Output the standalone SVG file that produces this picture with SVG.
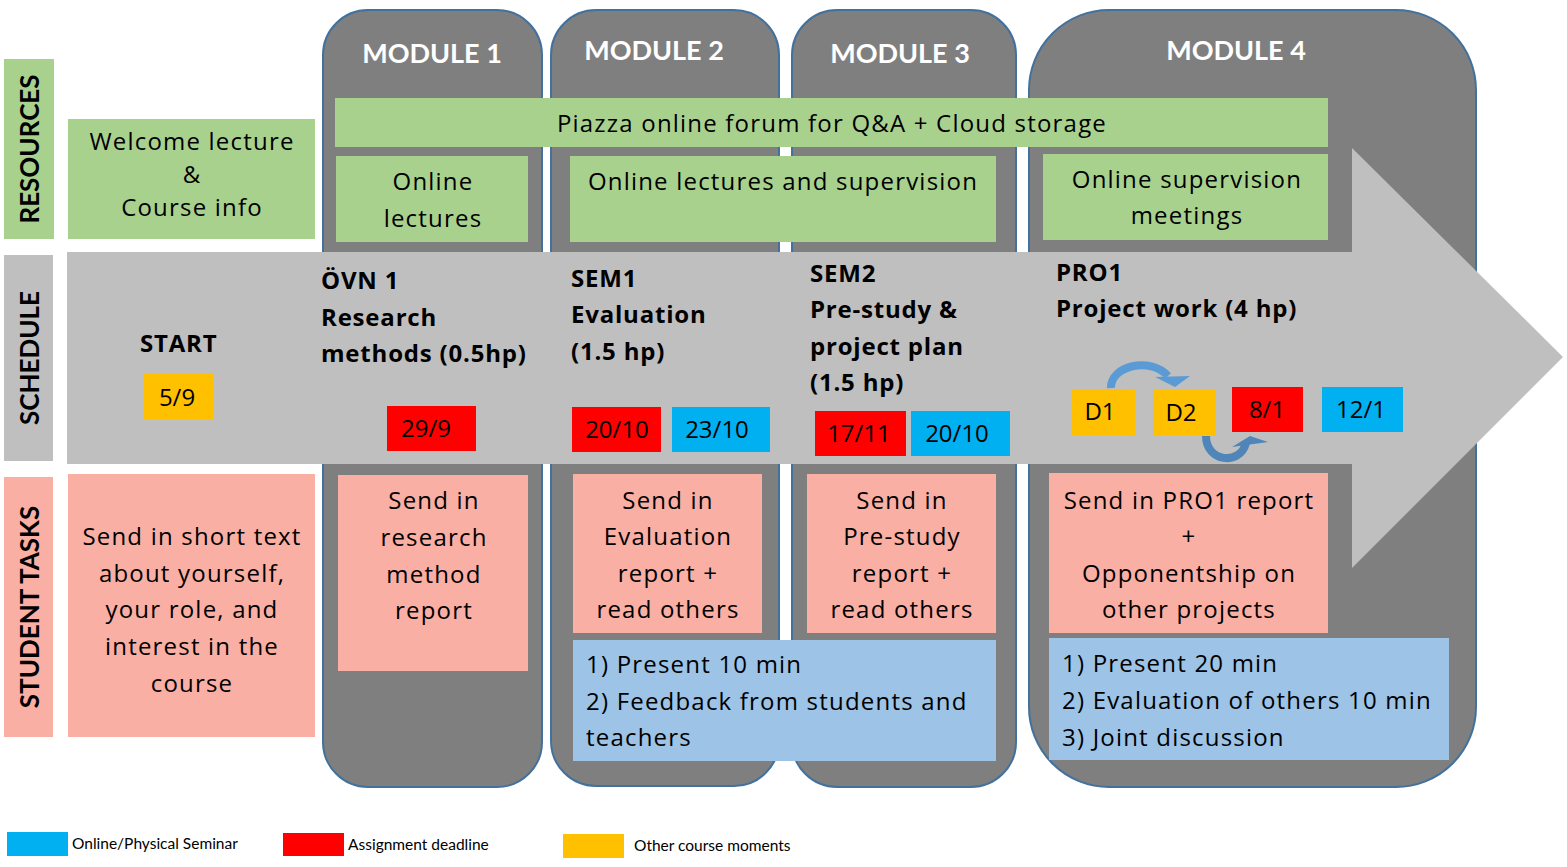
<svg xmlns="http://www.w3.org/2000/svg" width="1567" height="867" viewBox="0 0 1567 867">
<style>
text{font-family:"Open Sans","Noto Sans",sans-serif;fill:#000}
.t{font-size:24px;letter-spacing:1.2px}
.d{font-size:24px;text-anchor:middle}
.c{text-anchor:middle}
.b{font-weight:bold;font-size:24px;letter-spacing:0.8px}
.mod{fill:#7f7f7f;stroke:#41719c;stroke-width:2}
.mt{font-family:Lato,"Open Sans",sans-serif;font-weight:bold;font-size:27px;fill:#fff;text-anchor:middle}
.g{fill:#a9d18e}
.p{fill:#f9afa4}
.lb{fill:#9dc3e6}
.red{fill:#ff0000}
.cy{fill:#00b0f0}
.yl{fill:#ffc000}
.side{font-family:Lato,"Open Sans",sans-serif;font-weight:bold;font-size:26px;text-anchor:middle}
.lg{font-family:Lato,"Open Sans",sans-serif;font-size:15.5px}
</style>
<rect width="1567" height="867" fill="#fff"/>

<g id="module1"><rect class="mod" x="323" y="10" width="219" height="777" rx="45"/><text class="mt" x="432" y="63">MODULE 1</text></g>
<g id="module2"><rect class="mod" x="551" y="10" width="228" height="776" rx="45"/><text class="mt" x="654" y="60">MODULE 2</text></g>
<g id="module3"><rect class="mod" x="792" y="10" width="224" height="777" rx="45"/><text class="mt" x="900" y="63">MODULE 3</text></g>
<g id="module4"><rect class="mod" x="1029" y="10" width="447" height="777" rx="80"/><text class="mt" x="1236" y="60">MODULE 4</text></g>

<g id="timeline-arrow"><polygon points="67,252 1352,252 1352,148 1563,357 1352,568 1352,464 67,464" fill="#bfbfbf"/></g>

<g id="label-resources"><rect class="g" x="4" y="59" width="50" height="180"/><text class="side" transform="translate(39,149) rotate(-90)">RESOURCES</text></g>
<g id="label-schedule"><rect x="4" y="255" width="49" height="206" fill="#bfbfbf"/><text class="side" transform="translate(39,358) rotate(-90)">SCHEDULE</text></g>
<g id="label-tasks"><rect class="p" x="4" y="477" width="49" height="260"/><text class="side" transform="translate(39,607) rotate(-90)">STUDENT TASKS</text></g>

<g id="welcome"><rect class="g" x="68" y="119" width="247" height="120"/>
<text class="t c" x="192" y="150">Welcome lecture</text><text class="t c" x="192" y="183">&amp;</text><text class="t c" x="192" y="216">Course info</text></g>
<g id="piazza"><rect class="g" x="335" y="98" width="993" height="49"/><text class="t c" x="832" y="132">Piazza online forum for Q&amp;A + Cloud storage</text></g>
<g id="online-lectures"><rect class="g" x="336" y="156" width="192" height="86"/><text class="t c" x="433" y="190">Online</text><text class="t c" x="433" y="227">lectures</text></g>
<g id="online-lectures-supervision"><rect class="g" x="570" y="156" width="426" height="86"/><text class="t c" x="783" y="190">Online lectures and supervision</text></g>
<g id="online-supervision"><rect class="g" x="1043" y="154" width="285" height="86"/><text class="t c" x="1187" y="188">Online supervision</text><text class="t c" x="1187" y="224">meetings</text></g>

<g id="start"><text class="b" x="140" y="352">START</text><rect class="yl" x="144" y="374" width="69" height="45"/><text class="d" x="177" y="406">5/9</text></g>
<g id="ovn1"><text class="b" x="321" y="289">ÖVN 1</text><text class="b" x="321" y="326">Research</text><text class="b" x="321" y="362">methods (0.5hp)</text>
<rect class="red" x="387" y="406" width="89" height="45"/><text class="d" x="426" y="437">29/9</text></g>
<g id="sem1"><text class="b" x="571" y="287">SEM1</text><text class="b" x="571" y="323">Evaluation</text><text class="b" x="571" y="360">(1.5 hp)</text>
<rect class="red" x="572" y="407" width="89" height="45"/><text class="d" x="617" y="438">20/10</text>
<rect class="cy" x="672" y="407" width="98" height="45"/><text class="d" x="717" y="438">23/10</text></g>
<g id="sem2"><text class="b" x="810" y="282">SEM2</text><text class="b" x="810" y="318">Pre-study &amp;</text><text class="b" x="810" y="355">project plan</text><text class="b" x="810" y="391">(1.5 hp)</text>
<rect class="red" x="815" y="411" width="91" height="45"/><text class="d" x="859" y="442">17/11</text>
<rect class="cy" x="911" y="411" width="99" height="45"/><text class="d" x="957" y="442">20/10</text></g>
<g id="pro1"><text class="b" x="1056" y="281">PRO1</text><text class="b" x="1056" y="317">Project work (4 hp)</text>
<rect class="yl" x="1072" y="389" width="63" height="46"/><text class="d" x="1100" y="420">D1</text>
<rect class="yl" x="1153" y="390" width="63" height="45"/><text class="d" x="1181" y="421">D2</text>
<rect class="red" x="1232" y="387" width="71" height="45"/><text class="d" x="1267" y="418">8/1</text>
<rect class="cy" x="1322" y="387" width="81" height="45"/><text class="d" x="1361" y="418">12/1</text></g>

<g id="connectors">
<path d="M1111,388 C1110,366 1150,356 1168,376" fill="none" stroke="#5b9bd5" stroke-width="8"/>
<polygon points="1155,377 1190,376 1175,387" fill="#5b9bd5"/>
<path d="M1206,436 C1206,462 1240,466 1246,443" fill="none" stroke="#4f85b8" stroke-width="8"/>
<polygon points="1232,447 1250,436 1268,442" fill="#4f85b8"/>
</g>

<g id="task-intro"><rect class="p" x="68" y="474" width="247" height="263"/>
<text class="t c" x="192" y="545">Send in short text</text><text class="t c" x="192" y="582">about yourself,</text><text class="t c" x="192" y="618">your role, and</text><text class="t c" x="192" y="655">interest in the</text><text class="t c" x="192" y="692">course</text></g>
<g id="task-m1"><rect class="p" x="338" y="475" width="190" height="196"/>
<text class="t c" x="434" y="509">Send in</text><text class="t c" x="434" y="546">research</text><text class="t c" x="434" y="583">method</text><text class="t c" x="434" y="619">report</text></g>
<g id="task-m2"><rect class="p" x="573" y="474" width="189" height="159"/>
<text class="t c" x="668" y="509">Send in</text><text class="t c" x="668" y="545">Evaluation</text><text class="t c" x="668" y="582">report +</text><text class="t c" x="668" y="618">read others</text></g>
<g id="task-m3"><rect class="p" x="807" y="474" width="189" height="159"/>
<text class="t c" x="902" y="509">Send in</text><text class="t c" x="902" y="545">Pre-study</text><text class="t c" x="902" y="582">report +</text><text class="t c" x="902" y="618">read others</text></g>
<g id="task-m4"><rect class="p" x="1049" y="473" width="279" height="160"/>
<text class="t c" x="1189" y="509">Send in PRO1 report</text><text class="t c" x="1189" y="545">+</text><text class="t c" x="1189" y="582">Opponentship on</text><text class="t c" x="1189" y="618">other projects</text></g>
<g id="seminar-sem"><rect class="lb" x="573" y="640" width="423" height="121"/>
<text class="t" x="586" y="673">1) Present 10 min</text><text class="t" x="586" y="710">2) Feedback from students and</text><text class="t" x="586" y="746">teachers</text></g>
<g id="seminar-pro"><rect class="lb" x="1049" y="638" width="400" height="122"/>
<text class="t" x="1062" y="672">1) Present 20 min</text><text class="t" x="1062" y="709">2) Evaluation of others 10 min</text><text class="t" x="1062" y="746">3) Joint discussion</text></g>

<g id="legend">
<rect class="cy" x="7" y="832" width="61" height="24"/><text class="lg" x="72" y="849">Online/Physical Seminar</text>
<rect class="red" x="283" y="833" width="61" height="23"/><text class="lg" x="348" y="850">Assignment deadline</text>
<rect class="yl" x="563" y="834" width="61" height="24"/><text class="lg" x="634" y="851">Other course moments</text>
</g>
</svg>
